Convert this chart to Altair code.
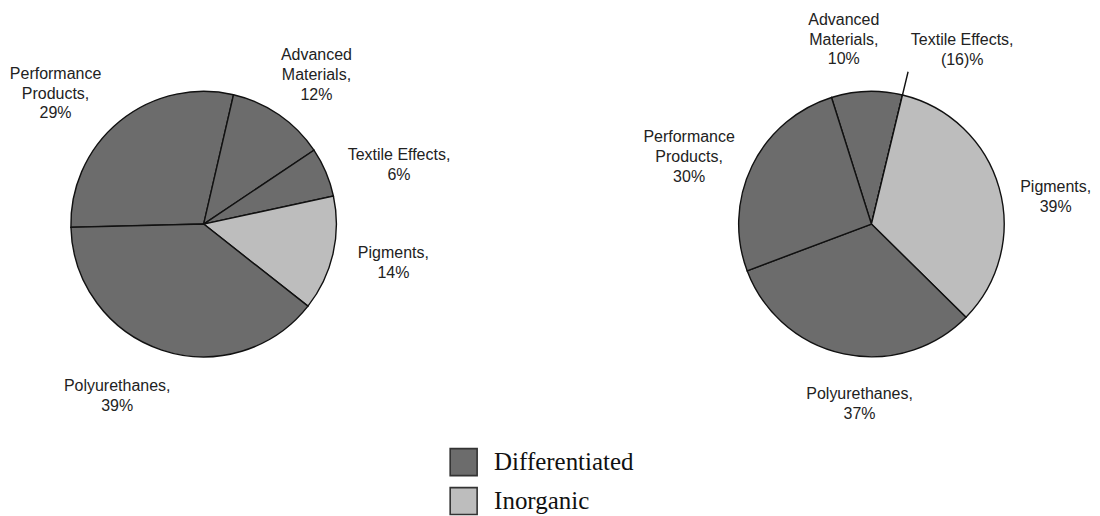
import math
import altair as alt
import pandas as pd

# ---- data ----
segments_2003 = ["Performance Products", "Advanced Materials", "Textile Effects", "Pigments", "Polyurethanes"]
groups_2003 = ["Differentiated", "Differentiated", "Differentiated", "Inorganic", "Differentiated"]
shares_2003 = [29, 12, 6, 14, 39]
labels_2003 = ["Performance\nProducts,\n29%", "Advanced\nMaterials,\n12%", "Textile Effects,\n6%",
               "Pigments,\n14%", "Polyurethanes,\n39%"]

segments_2004 = ["Advanced Materials", "Textile Effects", "Pigments", "Polyurethanes", "Performance Products"]
groups_2004 = ["Differentiated", "Differentiated", "Inorganic", "Differentiated", "Differentiated"]
shares_2004 = [10, -16, 39, 37, 30]
labels_2004 = ["Advanced\nMaterials,\n10%", "Textile Effects,\n(16)%", "Pigments,\n39%",
               "Polyurethanes,\n37%", "Performance\nProducts,\n30%"]

group_names = ["Differentiated", "Inorganic"]
group_colors = ["#6c6c6c", "#bdbdbd"]

# ---- layout (label nudges away from the mid-angle anchor, in pixels) ----
nudge_2003 = [(-27, 18), (4, 9), (19, 16), (3, -4), (-26, -10)]
nudge_2004 = [(-21, 7), (46, 12), (0, 26), (28, -8), (-10, 17)]

LINE_H = 20


def frame(segments, groups, shares, labels):
    return pd.DataFrame({
        "idx": list(range(len(segments))),
        "segment": segments,
        "group": groups,
        "share": shares,
        "drawn": [max(s, 0) for s in shares],
        "label": labels,
    })


R = 133
LABEL_R = 192
W, H = 392, 432


def pie(df, start_deg, nudges, zero_leader=False):
    start = math.radians(start_deg)
    total = float(df["drawn"].sum())
    theta_scale = alt.Scale(domain=[0, total], range=[start, start + 2 * math.pi])
    base = alt.Chart(df).transform_window(
        cum="sum(drawn)", frame=[None, 0], sort=[alt.SortField("idx")]
    ).transform_calculate(
        begin="datum.cum - datum.drawn",
        mid="datum.cum - datum.drawn / 2",
    )
    arcs = base.mark_arc(outerRadius=R, stroke="#111", strokeWidth=1.4).encode(
        theta=alt.Theta("begin:Q", scale=theta_scale),
        theta2="cum:Q",
        color=alt.Color("group:N",
                        scale=alt.Scale(domain=group_names, range=group_colors),
                        legend=alt.Legend(orient="none", legendX=442, legendY=440,
                                          title=None, symbolType="square",
                                          symbolSize=729, symbolStrokeWidth=1.6,
                                          symbolStrokeColor="#333",
                                          symbolOpacity=1,
                                          labelFont="Liberation Serif", labelFontSize=25,
                                          labelColor="#111", labelOffset=16,
                                          rowPadding=4, padding=0)),
    )
    layers = [arcs]
    for i, (dx, dy) in enumerate(nudges):
        n_lines = df["label"].iloc[i].count("\n") + 1
        layers.append(
            base.transform_filter(alt.datum.idx == i).mark_text(
                radius=LABEL_R, font="Liberation Sans", fontSize=16,
                lineHeight=LINE_H, lineBreak="\n", align="center",
                baseline="middle", color="#222", dx=dx,
                dy=dy - (n_lines - 1) * LINE_H / 2).encode(
                theta=alt.Theta("mid:Q", scale=theta_scale),
                text="label:N",
            )
        )
    if zero_leader:
        layers.append(
            base.transform_filter(alt.datum.drawn == 0).mark_arc(
                radius=R + 24, radius2=R, stroke="#111", strokeWidth=1.4, fill="#111"
            ).encode(
                theta=alt.Theta("mid:Q", scale=theta_scale),
                theta2="mid:Q",
            )
        )
    return alt.layer(*layers).properties(width=W, height=H)


left = pie(frame(segments_2003, groups_2003, shares_2003, labels_2003), 268.6, nudge_2003)
right = pie(frame(segments_2004, groups_2004, shares_2004, labels_2004), 342.5, nudge_2004,
            zero_leader=True)

chart = alt.hconcat(left, right, spacing=277, bounds="flush").resolve_scale(
    theta="independent", color="shared"
).properties(padding=0).configure_view(stroke=None).configure(background="white")

chart.save("out.html", embed_options={"renderer": "svg", "actions": False})
